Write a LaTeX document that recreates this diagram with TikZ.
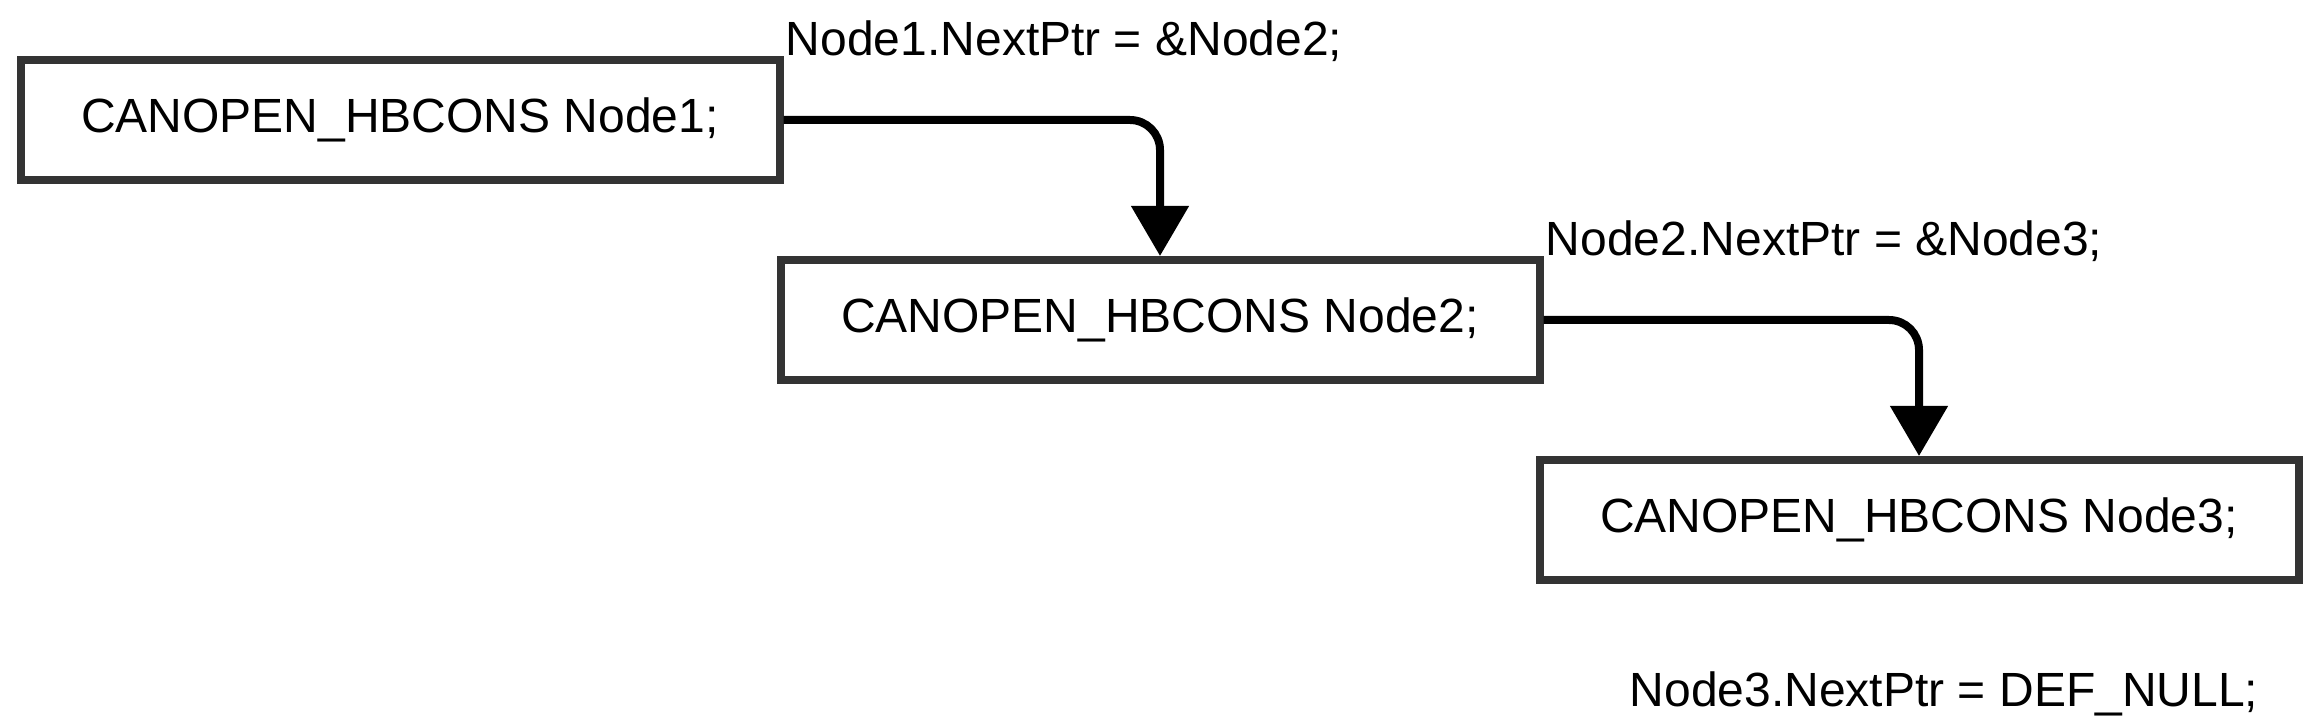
\documentclass[tikz,border=0pt]{standalone}
\usepackage{fontspec}
\setmainfont{Liberation Sans}
\usetikzlibrary{arrows.meta,positioning}
\definecolor{boxGray}{HTML}{333333}

\begin{document}
\begin{tikzpicture}[x=0.5pt, y=-0.5pt,
  hb/.style={draw=boxGray, line width=4pt, fill=white,
             minimum width=379.5pt, minimum height=60pt, inner sep=0pt,
             font=\fontsize{24pt}{28pt}\selectfont},
  ptr/.style={inner sep=0pt, font=\fontsize{24pt}{28pt}\selectfont},
  arr/.style={-{Triangle[length=25pt,width=28pt]}, line width=4pt,
              rounded corners=15pt}
]
\useasboundingbox (0,0) rectangle (2316,726);
\node[hb] (n1) at (400,120)  {CANOPEN\_HBCONS Node1;};
\node[hb] (n2) at (1160,320) {CANOPEN\_HBCONS Node2;};
\node[hb] (n3) at (1919,520) {CANOPEN\_HBCONS Node3;};
\node[ptr, anchor=base west] (p1) at ([xshift=1pt]n1.north east) {Node1.NextPtr = \&Node2;};
\node[ptr, anchor=base west] (p2) at ([xshift=1pt]n2.north east) {Node2.NextPtr = \&Node3;};
\node[ptr, anchor=base]      (p3) at (1944,706) {Node3.NextPtr = DEF\_NULL;};
\draw[arr] (n1.east) -| (n2.north);
\draw[arr] (n2.east) -| (n3.north);
\end{tikzpicture}
\end{document}
